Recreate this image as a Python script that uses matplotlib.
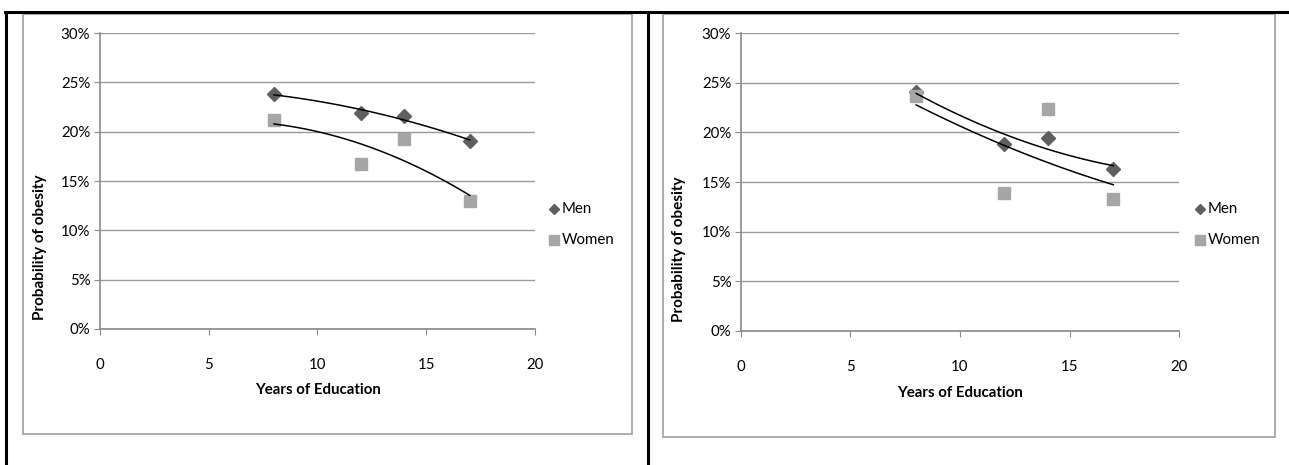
import numpy as np
import matplotlib
matplotlib.use("Agg")
import matplotlib.pyplot as plt
from matplotlib.lines import Line2D
from matplotlib.patches import Rectangle
from matplotlib.ticker import FuncFormatter

plt.rcParams['font.family'] = ['Lato', 'DejaVu Sans']

# ---- data ----
years = [8, 12, 14, 17]
left_men = [23.8, 21.85, 21.6, 19.05]
left_women = [21.15, 16.75, 19.25, 12.95]
right_men = [24.1, 18.85, 19.4, 16.35]
right_women = [23.65, 13.9, 22.3, 13.3]
series_names = ["Men", "Women"]
x_ticks = [0, 5, 10, 15, 20]
y_ticks = [0, 5, 10, 15, 20, 25, 30]
x_label = "Years of Education"
y_label = "Probability of obesity"

W, H = 1289, 465
fig = plt.figure(figsize=(W / 100, H / 100), dpi=100)

def fx(px):
    return px / W

def fy(py):
    return 1 - py / H

MEN_C = "#5f5f5f"
WOMEN_C = "#a6a6a6"
GRID_C = "#9a9a9a"
AXIS_C = "#8a8a8a"
FRAME_C = "#a6a6a6"

# table-like black borders
fig.add_artist(Line2D([fx(5), fx(W)], [fy(12), fy(12)], color="black", lw=2.2, transform=fig.transFigure))
fig.add_artist(Line2D([fx(6), fx(6)], [fy(12), fy(H)], color="black", lw=2.2, transform=fig.transFigure))
fig.add_artist(Line2D([fx(647.5), fx(647.5)], [fy(12), fy(H)], color="black", lw=2.2, transform=fig.transFigure))

def draw_chart(frame, plot, men, women, xlabel_pos, ylabel_pos, legend_x):
    fl, ft, fr, fb = frame
    fig.add_artist(Rectangle((fx(fl), fy(fb)), fx(fr) - fx(fl), fy(ft) - fy(fb),
                             fill=False, edgecolor=FRAME_C, lw=1.3, transform=fig.transFigure))
    pl, pt, pr, pb = plot
    ax = fig.add_axes([fx(pl), fy(pb), fx(pr) - fx(pl), fy(pt) - fy(pb)])
    ax.set_xlim(0, 20)
    ax.set_ylim(0, 30)
    ax.set_xticks(x_ticks)
    ax.set_yticks(y_ticks)
    ax.yaxis.set_major_formatter(FuncFormatter(lambda v, p: f"{int(v)}%"))
    ax.grid(axis="y", color=GRID_C, lw=1.0)
    ax.set_axisbelow(True)
    for s in ["top", "right"]:
        ax.spines[s].set_visible(False)
    for s in ["left", "bottom"]:
        ax.spines[s].set_color(AXIS_C)
        ax.spines[s].set_linewidth(1.2)
    ax.tick_params(axis="x", direction="out", length=4, color=AXIS_C, pad=17, labelsize=10.8)
    ax.tick_params(axis="y", direction="out", length=4, color=AXIS_C, pad=3, labelsize=10.8)
    ax.set_facecolor("white")

    ax.plot(years, men, linestyle="none", marker="D", ms=7.5, color=MEN_C, label=series_names[0], zorder=3)
    ax.plot(years, women, linestyle="none", marker="s", ms=9, color=WOMEN_C, label=series_names[1], zorder=3)

    xs = np.linspace(min(years), max(years), 100)
    for vals in (men, women):
        c = np.polyfit(years, vals, 2)
        ax.plot(xs, np.polyval(c, xs), color="black", lw=1.1, zorder=4)

    fig.text(fx(xlabel_pos[0]), fy(xlabel_pos[1]), x_label, ha="center", va="center",
             fontsize=10.8, fontweight="bold")
    fig.text(fx(ylabel_pos[0]), fy(ylabel_pos[1]), y_label, ha="center", va="center",
             rotation=90, fontsize=11, fontweight="bold")

    # legend
    fig.add_artist(Line2D([fx(legend_x)], [fy(209)], marker="D", ms=5, color=MEN_C,
                          linestyle="none", transform=fig.transFigure))
    fig.text(fx(legend_x + 8), fy(209), series_names[0], ha="left", va="center", fontsize=10.8)
    fig.add_artist(Line2D([fx(legend_x - 0.5)], [fy(240)], marker="s", ms=7, color=WOMEN_C,
                          linestyle="none", transform=fig.transFigure))
    fig.text(fx(legend_x + 8), fy(240), series_names[1], ha="left", va="center", fontsize=10.8)
    return ax

draw_chart((22.7, 14, 631.7, 433.5), (100, 33, 535, 329), left_men, left_women,
           (318, 390), (40, 247), 554)
draw_chart((663.3, 14, 1275, 436.5), (741, 33, 1179, 331), right_men, right_women,
           (960, 393), (679, 249), 1200)

fig.savefig("out.png", dpi=100, facecolor="white")
